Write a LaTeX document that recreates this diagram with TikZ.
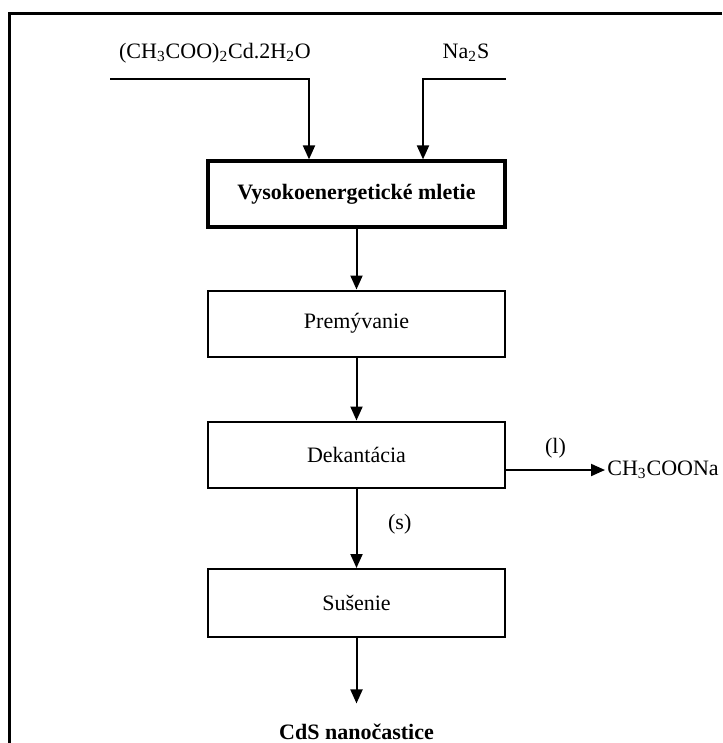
\documentclass[tikz,border=0pt]{standalone}
\usepackage{fontspec}
\setmainfont{Liberation Serif}
\usetikzlibrary{arrows.meta}
\begin{document}
\begin{tikzpicture}[x=.5pt,y=-.5pt,font=\fontsize{11}{13}\selectfont,
    stepbox/.style={draw,line width=1pt,minimum width=148.5pt,minimum height=33pt},
    arr/.style={line width=1pt,-{Triangle[length=7pt,width=6pt]}}]
  \useasboundingbox (0,0) rectangle (722,743);
  \draw[line width=1.5pt] (722,14)--(9,14)--(9,743);
  \node (acet) at (215,53) {(CH\textsubscript{3}COO)\textsubscript{2}Cd.2H\textsubscript{2}O};
  \node (nas) at (466,53) {Na\textsubscript{2}S};
  \coordinate (acetl) at (110,79);
  \coordinate (nasl) at (506,79);
  \node[stepbox,line width=1.6pt,font=\fontsize{11}{13}\selectfont\bfseries] (mill) at (356.5,194) {Vysokoenergetické mletie};
  \node[stepbox] (wash) at (356.5,323.5) {Premývanie};
  \node[stepbox] (dek) at (356.5,454.5) {Dekantácia};
  \node[stepbox,minimum height=34pt] (dry) at (356.5,603) {Sušenie};
  \node[anchor=base,font=\fontsize{11}{13}\selectfont\bfseries] (cds) at (356.5,739) {CdS nanočastice};
  \node[anchor=west,inner sep=1pt] (na) at (605,470) {CH\textsubscript{3}COONa};
  \draw[arr] (acetl) -| ([xshift=-23.75pt]mill.north);
  \draw[arr] (nasl) -| ([xshift=33.25pt]mill.north);
  \draw[arr] (mill) -- (wash);
  \draw[arr] (wash) -- (dek);
  \draw[arr] (dek) -- (dry) node[pos=.45,right=12pt] {(s)};
  \draw[arr,shorten >=6.5pt] (dry) -- (cds.north);
  \draw[arr] ([yshift=-7.75pt]dek.east) -- (na.west) node[midway,above=2pt] {(l)};
\end{tikzpicture}
\end{document}
